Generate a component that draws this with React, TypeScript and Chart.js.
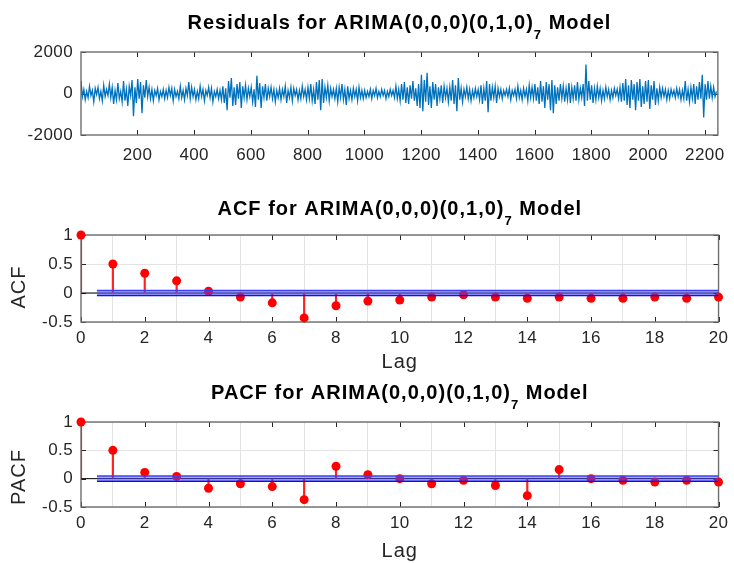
import React, { useEffect, useRef } from 'react';
import { Chart, registerables } from 'chart.js';

Chart.register(...registerables);

const FONT = "'Liberation Sans', Arial, Helvetica, sans-serif";
const TEXT = '#262626';

// ---- Residual series (sampled every RES_STEP observations from RES_START) ----
const RES_START = 1;
const RES_STEP = 5;
const residuals = [
  600, -150, 200, -300, 100, -200, 350, -100, 150, -400, 250, -50, 300, -250, 100, -350, 400, -150, 200, -100,
  450, -200, 300, -500, 150, -300, 500, -250, 100, -400, 600, -350, 200, -600, 350, -100, 650, -1100, 300, -450,
  700, -250, 550, -950, 400, -200, 650, -150, 300, -250, 200, -350, 150, -100, 250, -300, 100, -150, 200, -250,
  150, -200, 300, -100, 250, -350, 200, -150, 100, -250, 350, -200, 150, -300, 250, -100, 550, -250, 300, -150,
  200, -300, 100, -250, 350, -150, 200, -350, 150, -100, 300, -200, 250, -400, 100, -150, 200, -250, 150, -300,
  350, -450, 250, -800, 600, -200, 750, -600, 300, -550, 450, -250, 550, -700, 350, -200, 400, -300, 250, -150,
  300, -400, 200, -650, 850, -300, 500, -700, 350, -200, 450, -350, 250, -150, 300, -250, 200, -400, 150, -200,
  250, -300, 200, -150, 350, -450, 150, -200, 300, -350, 250, -100, 200, -300, 150, -250, 350, -150, 200, -300,
  300, -250, 450, -350, 200, -500, 550, -300, 650, -800, 700, -450, 300, -200, 400, -350, 250, -150, 200, -250,
  250, -400, 300, -200, 450, -300, 200, -550, 350, -250, 150, -300, 250, -150, 200, -350, 300, -200, 150, -250,
  150, -200, 100, -150, 200, -250, 150, -100, 250, -200, 100, -150, 200, -100, 150, -250, 100, -150, 200, -100,
  150, -200, 350, -250, 200, -350, 450, -300, 550, -450, 300, -500, 400, -250, 600, -350, 250, -600, 450, -700,
  900, -850, 650, -400, 1000, -550, 350, -700, 550, -300, 450, -600, 300, -250, 400, -450, 350, -200, 250, -400,
  300, -350, 650, -500, 400, -850, 750, -300, 250, -400, 200, -150, 300, -250, 200, -350, 150, -200, 250, -150,
  200, -300, 400, -500, 250, -350, 600, -900, 450, -350, 300, -200, 350, -450, 250, -150, 200, -250, 150, -100,
  200, -150, 250, -300, 150, -100, 200, -250, 350, -200, 150, -300, 250, -150, 200, -350, 400, -200, 300, -250,
  450, -350, 300, -500, 600, -400, 350, -700, 550, -300, 450, -800, 650, -950, 400, -500, 300, -350, 450, -250,
  350, -400, 250, -300, 500, -450, 300, -250, 400, -350, 550, -300, 250, -200, 450, -600, 1400, -350, 600, -300,
  400, -450, 250, -300, 350, -200, 250, -350, 150, -250, 300, -150, 200, -300, 150, -200, 250, -100, 200, -250,
  300, -400, 500, -350, 700, -550, 400, -700, 650, -300, 450, -800, 550, -350, 700, -650, 350, -500, 600, -400,
  650, -750, 400, -300, 600, -550, 250, -350, 300, -200, 250, -150, 200, -300, 150, -250, 200, -100, 150, -200,
  250, -150, 200, -300, 150, -250, 600, -350, 200, -400, 300, -250, 450, -500, 350, -300, 550, -250, 900, -1150,
  450, -300, 600, -250, 350, -200, 300, -150, 100,
];
const RES_X_MIN = 1;
const RES_X_MAX = 2246;
const resXTicks = [200, 400, 600, 800, 1000, 1200, 1400, 1600, 1800, 2000, 2200];
const resYTicks = [-2000, 0, 2000];

// ---- ACF / PACF ----
const lags = [0, 1, 2, 3, 4, 5, 6, 7, 8, 9, 10, 11, 12, 13, 14, 15, 16, 17, 18, 19, 20];
const acfValues = [1, 0.5, 0.34, 0.21, 0.03, -0.07, -0.17, -0.43, -0.22, -0.14, -0.12, -0.07, -0.03, -0.07, -0.09, -0.07, -0.09, -0.09, -0.07, -0.09, -0.07];
const pacfValues = [1, 0.5, 0.11, 0.04, -0.17, -0.09, -0.14, -0.37, 0.22, 0.07, 0.0, -0.09, -0.03, -0.12, -0.3, 0.16, 0.0, -0.03, -0.06, -0.03, -0.06];
const CONF_BOUND = 0.045;
const BAND_START = 0.5;
const lagTicks = [0, 2, 4, 6, 8, 10, 12, 14, 16, 18, 20];
const corrYTicks = [-0.5, 0, 0.5, 1];

type Deco = {
  title: [string, string, string];
  titleBaseline: number;
  ylabel?: string;
  ylabelY?: number;
  xlabel?: string;
  xlabelY?: number;
};

function drawTitle(ctx: CanvasRenderingContext2D, cx: number, baseline: number, parts: [string, string, string]) {
  ctx.save();
  ctx.fillStyle = '#000';
  ctx.textBaseline = 'alphabetic';
  ctx.textAlign = 'left';
  (ctx as any).letterSpacing = '1px';
  const big = `bold 20px ${FONT}`;
  const small = `bold 13px ${FONT}`;
  ctx.font = big;
  const w1 = ctx.measureText(parts[0]).width;
  const w3 = ctx.measureText(parts[2]).width;
  ctx.font = small;
  const w2 = ctx.measureText(parts[1]).width;
  let x = cx - (w1 + w2 + w3) / 2;
  ctx.font = big;
  ctx.fillText(parts[0], x, baseline);
  x += w1;
  ctx.font = small;
  ctx.fillText(parts[1], x, baseline + 10);
  x += w2;
  ctx.font = big;
  ctx.fillText(parts[2], x, baseline);
  ctx.restore();
}

function makeDecoPlugin(d: Deco) {
  return {
    id: 'matlabDeco',
    beforeDraw(chart: any) {
      chart.ctx.letterSpacing = '0.4px';
    },
    beforeDatasetsDraw(chart: any) {
      const { ctx, chartArea: a, scales } = chart;
      ctx.save();
      ctx.strokeStyle = TEXT;
      ctx.lineWidth = 1;
      const tl = 5;
      ctx.beginPath();
      for (const t of scales.x.ticks) {
        const px = Math.round(scales.x.getPixelForValue(t.value)) + 0.5;
        ctx.moveTo(px, a.bottom);
        ctx.lineTo(px, a.bottom - tl);
        ctx.moveTo(px, a.top);
        ctx.lineTo(px, a.top + tl);
      }
      for (const t of scales.y.ticks) {
        const py = Math.round(scales.y.getPixelForValue(t.value)) + 0.5;
        ctx.moveTo(a.left, py);
        ctx.lineTo(a.left + tl, py);
        ctx.moveTo(a.right, py);
        ctx.lineTo(a.right - tl, py);
      }
      ctx.stroke();
      ctx.strokeStyle = '#6e6e6e';
      ctx.lineWidth = 1.4;
      ctx.strokeRect(a.left, a.top, a.right - a.left, a.bottom - a.top);
      ctx.restore();
    },
    afterDraw(chart: any) {
      const { ctx, chartArea: a } = chart;
      const cx = (a.left + a.right) / 2;
      drawTitle(ctx, cx, d.titleBaseline, d.title);
      ctx.save();
      (ctx as any).letterSpacing = '1px';
      ctx.fillStyle = TEXT;
      ctx.font = `20px ${FONT}`;
      ctx.textAlign = 'center';
      ctx.textBaseline = 'middle';
      if (d.xlabel && d.xlabelY !== undefined) {
        ctx.fillText(d.xlabel, cx, d.xlabelY);
      }
      if (d.ylabel && d.ylabelY !== undefined) {
        ctx.translate(19, d.ylabelY);
        ctx.rotate(-Math.PI / 2);
        ctx.fillText(d.ylabel, 0, 0);
      }
      ctx.restore();
    },
  };
}

function tickFont() {
  return { family: FONT, size: 17 };
}

function residualConfig(): any {
  const data = residuals.map((v, i) => ({ x: RES_START + i * RES_STEP, y: v }));
  return {
    type: 'line',
    data: {
      datasets: [
        {
          data,
          borderColor: '#0072BD',
          borderWidth: 1.3,
          pointRadius: 0,
          tension: 0,
          fill: false,
        },
      ],
    },
    options: {
      animation: false,
      responsive: false,
      events: [],
      layout: { padding: { top: 52, right: 13, left: 0, bottom: 0 } },
      plugins: { legend: { display: false }, tooltip: { enabled: false }, title: { display: false } },
      scales: {
        x: {
          type: 'linear',
          min: RES_X_MIN,
          max: RES_X_MAX,
          afterBuildTicks: (s: any) => { s.ticks = resXTicks.map((v) => ({ value: v })); },
          afterFit: (s: any) => { s.height = 45; },
          ticks: { font: tickFont(), color: TEXT, padding: 10, maxRotation: 0, autoSkip: false, callback: (v: any) => String(v) },
          grid: { display: false, drawTicks: false },
          border: { display: false },
        },
        y: {
          min: -2000,
          max: 2000,
          afterBuildTicks: (s: any) => { s.ticks = resYTicks.map((v) => ({ value: v })); },
          afterFit: (s: any) => { s.width = 81; },
          ticks: { font: tickFont(), color: TEXT, padding: 8, callback: (v: any) => String(v) },
          grid: { display: false, drawTicks: false },
          border: { display: false },
        },
      },
    },
    plugins: [
      makeDecoPlugin({ title: ['Residuals for ARIMA(0,0,0)(0,1,0)', '7', ' Model'], titleBaseline: 29 }),
    ],
  };
}

function corrConfig(values: number[], label: string, padTop: number, axisH: number, titleBaseline: number, ylabelY: number, xlabelY: number): any {
  const stems = lags.map((l, i) => ({ x: l, y: values[i] }));
  return {
    type: 'bar',
    data: {
      datasets: [
        {
          type: 'line',
          data: [{ x: 0, y: 0 }, { x: 20, y: 0 }],
          borderColor: '#000000',
          borderWidth: 1,
          pointRadius: 0,
          fill: false,
          order: 5,
        },
        {
          type: 'bar',
          data: stems,
          backgroundColor: '#ff2020',
          barThickness: 1.5,
          grouped: false,
          order: 4,
        },
        {
          type: 'line',
          data: stems,
          showLine: false,
          pointRadius: 4.5,
          pointBackgroundColor: '#ff0000',
          pointBorderWidth: 0,
          pointBorderColor: '#ff0000',
          clip: false,
          order: 3,
        },
        {
          type: 'line',
          data: [{ x: BAND_START, y: CONF_BOUND }, { x: 20, y: CONF_BOUND }],
          borderColor: '#3c3cff',
          borderWidth: 1.5,
          pointRadius: 0,
          fill: '+1',
          backgroundColor: 'rgba(70,70,255,0.45)',
          order: 1,
        },
        {
          type: 'line',
          data: [{ x: BAND_START, y: -CONF_BOUND }, { x: 20, y: -CONF_BOUND }],
          borderColor: '#0000ff',
          borderWidth: 1.5,
          pointRadius: 0,
          fill: false,
          order: 1,
        },
      ],
    },
    options: {
      animation: false,
      responsive: false,
      events: [],
      layout: { padding: { top: padTop, right: 12, left: 0, bottom: 0 } },
      plugins: { legend: { display: false }, tooltip: { enabled: false }, title: { display: false } },
      scales: {
        x: {
          type: 'linear',
          offset: false,
          min: 0,
          max: 20,
          afterBuildTicks: (s: any) => { s.ticks = lagTicks.map((v) => ({ value: v })); },
          afterFit: (s: any) => { s.height = axisH; },
          ticks: { font: tickFont(), color: TEXT, padding: 6, maxRotation: 0, autoSkip: false, callback: (v: any) => String(v) },
          grid: { color: '#e3e3e3', lineWidth: 1, drawTicks: false },
          border: { display: false },
        },
        y: {
          min: -0.5,
          max: 1,
          afterBuildTicks: (s: any) => { s.ticks = corrYTicks.map((v) => ({ value: v })); },
          afterFit: (s: any) => { s.width = 81; },
          ticks: { font: tickFont(), color: TEXT, padding: 8, callback: (v: any) => String(v) },
          grid: { color: '#e3e3e3', lineWidth: 1, drawTicks: false },
          border: { display: false },
        },
      },
    },
    plugins: [
      makeDecoPlugin({
        title: [`${label} for ARIMA(0,0,0)(0,1,0)`, '7', ' Model'],
        titleBaseline,
        ylabel: label,
        ylabelY,
        xlabel: 'Lag',
        xlabelY,
      }),
    ],
  };
}

function ChartCanvas({ top, height, config }: { top: number; height: number; config: () => any }) {
  const ref = useRef<HTMLCanvasElement | null>(null);
  useEffect(() => {
    if (!ref.current) return;
    const chart = new Chart(ref.current, config());
    return () => chart.destroy();
  }, []);
  return (
    <canvas
      ref={ref}
      width={734}
      height={height}
      style={{ position: 'absolute', left: 0, top, width: 734, height, display: 'block' }}
    />
  );
}

export default function App() {
  return (
    <div style={{ position: 'absolute', left: 0, top: 0, width: 734, height: 563, background: '#ffffff', overflow: 'hidden' }}>
      <ChartCanvas top={0} height={180} config={residualConfig} />
      <ChartCanvas
        top={180}
        height={195}
        config={() => corrConfig(acfValues, 'ACF', 55, 195 - 142, 215 - 180, 287 - 180, 362 - 180)}
      />
      <ChartCanvas
        top={375}
        height={188}
        config={() => corrConfig(pacfValues, 'PACF', 47, 188 - 132, 399 - 375, 477 - 375, 551 - 375)}
      />
    </div>
  );
}
